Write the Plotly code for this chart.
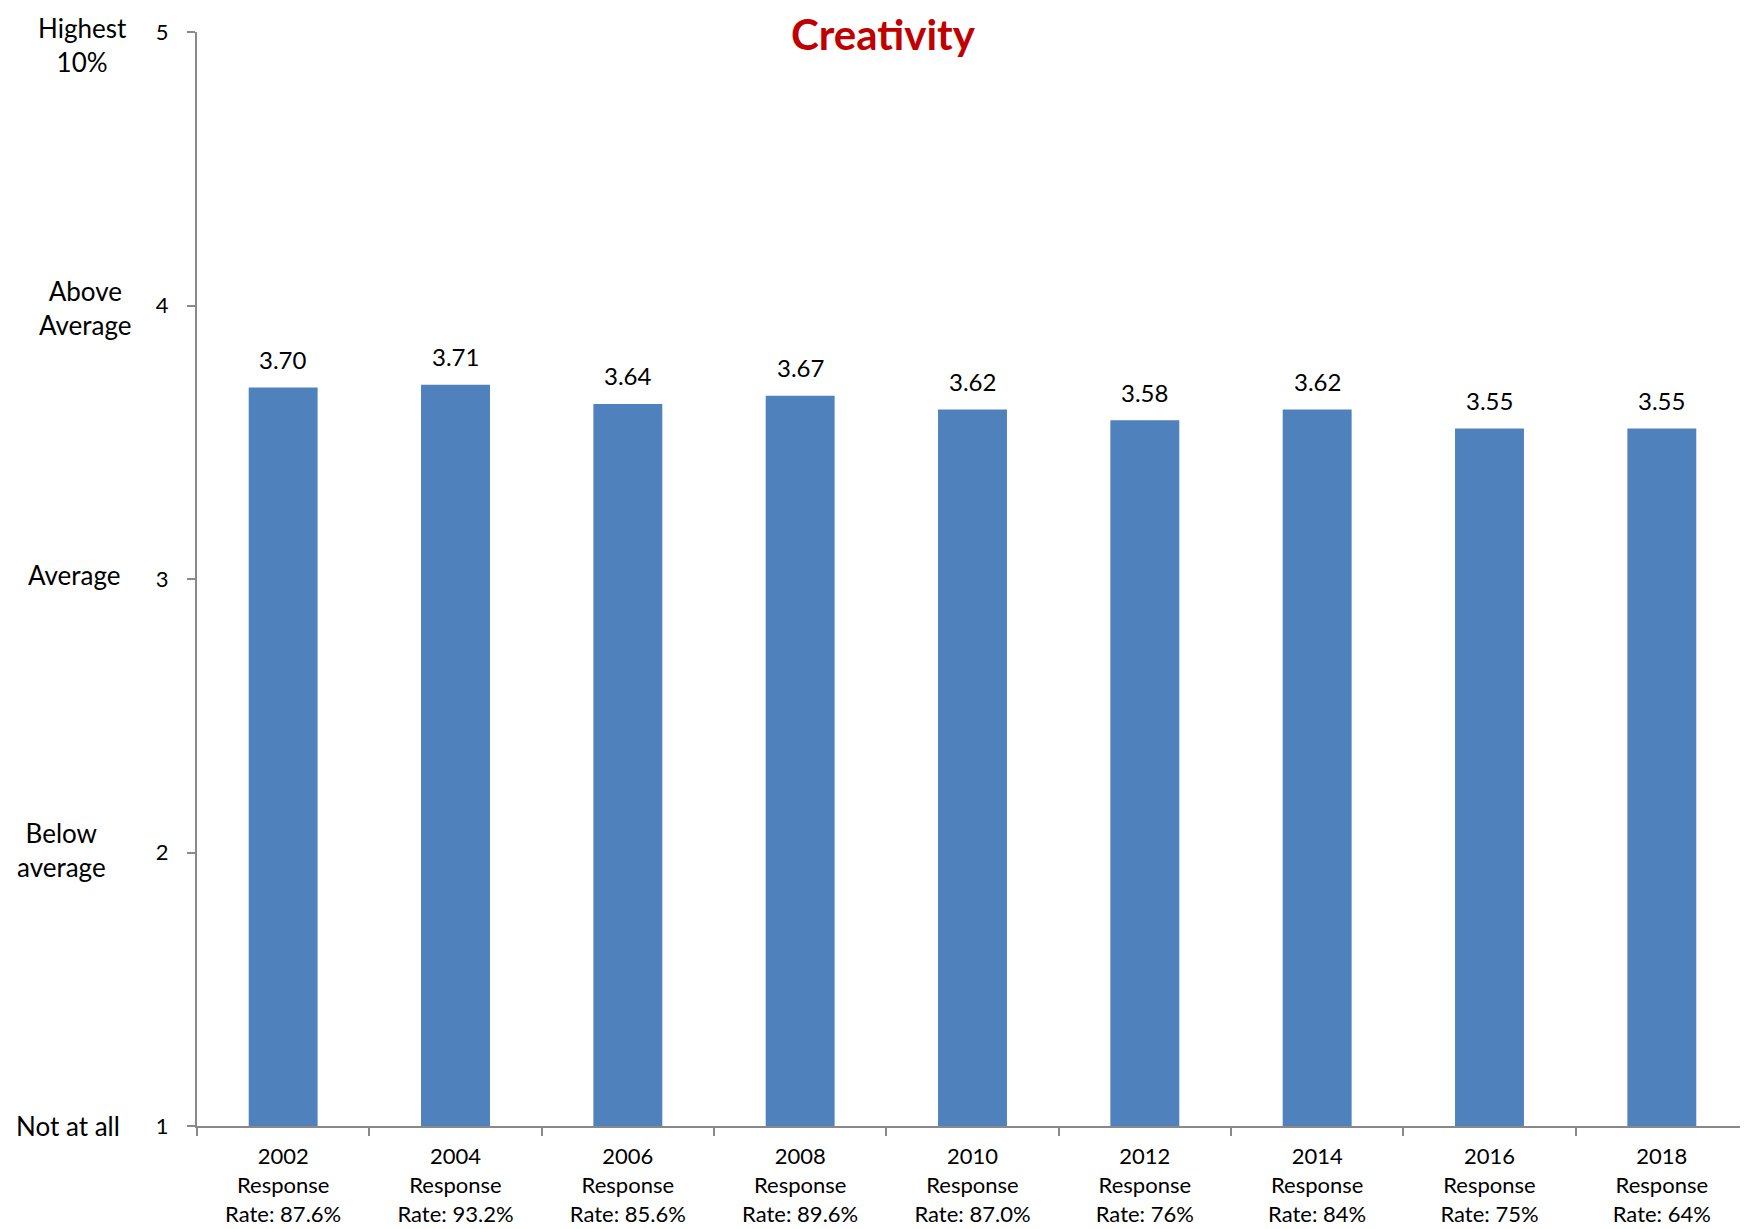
import plotly.graph_objects as go

categories = ["2002<br>Response<br>Rate: 87.6%", "2004<br>Response<br>Rate: 93.2%",
              "2006<br>Response<br>Rate: 85.6%", "2008<br>Response<br>Rate: 89.6%",
              "2010<br>Response<br>Rate: 87.0%", "2012<br>Response<br>Rate: 76%",
              "2014<br>Response<br>Rate: 84%", "2016<br>Response<br>Rate: 75%",
              "2018<br>Response<br>Rate: 64%"]
values = [3.70, 3.71, 3.64, 3.67, 3.62, 3.58, 3.62, 3.55, 3.55]
y_ticks = [1, 2, 3, 4, 5]
level_labels = ["Not at all", "Below<br>average", "Average", "Above<br>Average", "Highest<br>10%"]

FONT = "Lato"
fig = go.Figure()
fig.add_trace(go.Bar(x=categories, y=values, marker_color="#4F81BD",
                     marker_line_width=0, width=0.4))

annotations = []
for c, v in zip(categories, values):
    annotations.append(dict(x=c, y=v, xref="x", yref="y", text=f"{v:.2f}",
                            showarrow=False, yanchor="middle", yshift=28,
                            font=dict(family=FONT, size=24, color="black")))

label_px = [68, 61, 74, 85, 82]
label_shift = [0, 3, 4, -2, -13]
for y, t, px, sh in zip(y_ticks, level_labels, label_px, label_shift):
    annotations.append(dict(x=0, y=y, xref="paper", yref="y", text=t,
                            showarrow=False, xanchor="center", yanchor="middle",
                            xshift=px - 197, yshift=sh, align="center",
                            font=dict(family=FONT, size=26, color="black")))

annotations.append(dict(x=(875 - 189) / 1551, y=1, xref="paper", yref="paper",
                        text="<b>Creativity</b>", showarrow=False,
                        xanchor="center", yanchor="top", yshift=24, borderpad=0,
                        font=dict(family=FONT, size=42, color="#C00000")))

fig.update_layout(
    width=1740, height=1221,
    margin=dict(l=189, r=0, t=24, b=103),
    plot_bgcolor="white", paper_bgcolor="white",
    showlegend=False,
    bargap=0.6,
    annotations=annotations,
    font=dict(family=FONT, color="black"),
)
fig.update_xaxes(type="category", showline=True, linecolor="#898989", linewidth=2,
                 ticks="outside", ticklen=8, tickcolor="#898989", tickwidth=2,
                 tickson="boundaries", showgrid=False, ticklabelstandoff=10,
                 tickfont=dict(family=FONT, size=22, color="black"))
fig.update_yaxes(range=[1, 5], tickvals=y_ticks, showline=True, linecolor="#898989",
                 linewidth=2, ticks="outside", ticklen=8, tickcolor="#898989",
                 tickwidth=2, showgrid=False, zeroline=False,
                 ticklabelstandoff=14,
                 tickfont=dict(family=FONT, size=22, color="black"))

fig.write_html("out.html")
